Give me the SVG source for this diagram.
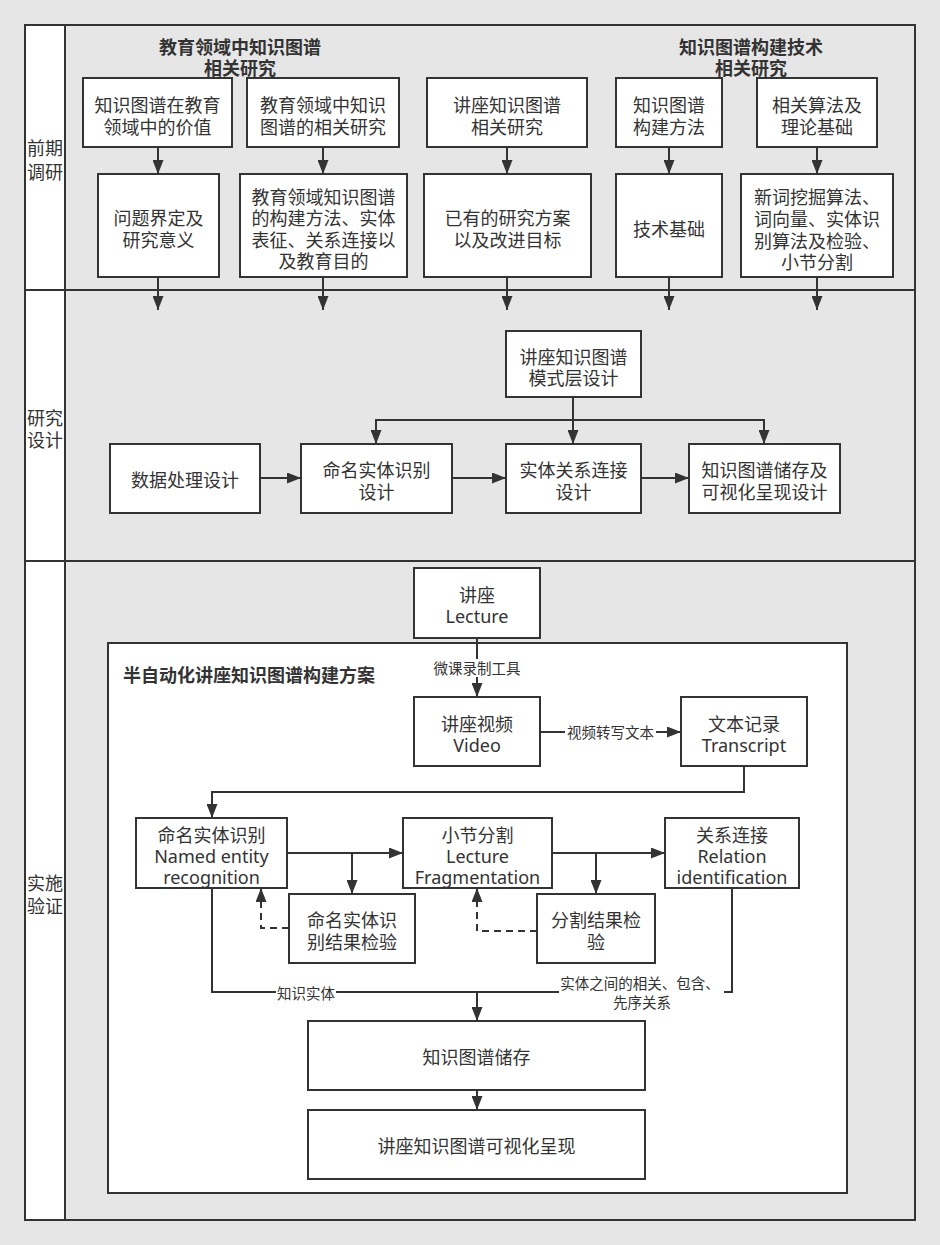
<svg xmlns="http://www.w3.org/2000/svg" width="940" height="1245" viewBox="0 0 940 1245">
<defs>
<style>
text{font-family:"Noto Sans","Noto Sans CJK SC",sans-serif;font-size:18px;fill:#333;text-anchor:middle;dominant-baseline:central}
.b{font-weight:bold}
.l{text-anchor:start}
.s{font-size:14.5px}
.box{fill:#fff;stroke:#333;stroke-width:2}
.ln{fill:none;stroke:#333;stroke-width:2}
.dash{fill:none;stroke:#333;stroke-width:2;stroke-dasharray:7 5}
</style>
<marker id="arr" viewBox="0 0 14 11" markerWidth="14" markerHeight="11" refX="14" refY="5.5" orient="auto" markerUnits="userSpaceOnUse">
<path d="M0,0 L14,5.5 L0,11 Z" fill="#333"/>
</marker>
</defs>
<rect x="0" y="0" width="940" height="1245" fill="#e6e6e6"/>
<g id="frame">
<rect x="25" y="25" width="890" height="1195" fill="#e6e6e6" stroke="#333" stroke-width="2"/>
<rect x="25" y="25" width="40" height="1195" fill="#fff" stroke="#333" stroke-width="2"/>
<line x1="25" y1="290" x2="915" y2="290" class="ln"/>
<line x1="25" y1="561" x2="915" y2="561" class="ln"/>
<text x="45" y="148">前期</text><text x="45" y="172">调研</text>
<text x="45" y="418">研究</text><text x="45" y="440">设计</text>
<text x="45" y="883">实施</text><text x="45" y="906">验证</text>
</g>
<g id="titles">
<text class="b" x="240" y="47">教育领域中知识图谱</text>
<text class="b" x="240" y="68">相关研究</text>
<text class="b" x="751" y="47">知识图谱构建技术</text>
<text class="b" x="751" y="68">相关研究</text>
</g>
<g id="connectors">
<line x1="158" y1="147" x2="158" y2="174" class="ln" marker-end="url(#arr)"/>
<line x1="323" y1="147" x2="323" y2="174" class="ln" marker-end="url(#arr)"/>
<line x1="507" y1="147" x2="507" y2="174" class="ln" marker-end="url(#arr)"/>
<line x1="669" y1="147" x2="669" y2="174" class="ln" marker-end="url(#arr)"/>
<line x1="817" y1="147" x2="817" y2="174" class="ln" marker-end="url(#arr)"/>
<line x1="158" y1="277" x2="158" y2="310" class="ln" marker-end="url(#arr)"/>
<line x1="323" y1="277" x2="323" y2="310" class="ln" marker-end="url(#arr)"/>
<line x1="507" y1="277" x2="507" y2="310" class="ln" marker-end="url(#arr)"/>
<line x1="669" y1="277" x2="669" y2="310" class="ln" marker-end="url(#arr)"/>
<line x1="817" y1="277" x2="817" y2="310" class="ln" marker-end="url(#arr)"/>
<line x1="573" y1="397" x2="573" y2="444" class="ln" marker-end="url(#arr)"/>
<polyline points="573,420 376,420 376,444" class="ln" marker-end="url(#arr)"/>
<polyline points="573,420 764,420 764,444" class="ln" marker-end="url(#arr)"/>
<line x1="260" y1="478" x2="301" y2="478" class="ln" marker-end="url(#arr)"/>
<line x1="452" y1="478" x2="506" y2="478" class="ln" marker-end="url(#arr)"/>
<line x1="641" y1="478" x2="689" y2="478" class="ln" marker-end="url(#arr)"/>
</g>
<g id="row1">
<g id="a1"><rect class="box" x="83" y="78" width="149" height="69"/><text x="157.5" y="105">知识图谱在教育</text><text x="157.5" y="127">领域中的价值</text></g>
<g id="a2"><rect class="box" x="247" y="78" width="152" height="69"/><text x="323" y="105">教育领域中知识</text><text x="323" y="127">图谱的相关研究</text></g>
<g id="a3"><rect class="box" x="427" y="78" width="160" height="69"/><text x="507" y="105">讲座知识图谱</text><text x="507" y="127">相关研究</text></g>
<g id="a4"><rect class="box" x="616" y="78" width="106" height="69"/><text x="669" y="105">知识图谱</text><text x="669" y="127">构建方法</text></g>
<g id="a5"><rect class="box" x="757" y="78" width="120" height="69"/><text x="817" y="105">相关算法及</text><text x="817" y="127">理论基础</text></g>
<g id="b1"><rect class="box" x="98" y="174" width="121" height="103"/><text x="158.5" y="218">问题界定及</text><text x="158.5" y="240">研究意义</text></g>
<g id="b2"><rect class="box" x="240" y="174" width="167" height="103"/><text x="323.5" y="197">教育领域知识图谱</text><text x="323.5" y="218">的构建方法、实体</text><text x="323.5" y="240">表征、关系连接以</text><text x="323.5" y="261">及教育目的</text></g>
<g id="b3"><rect class="box" x="424" y="174" width="167" height="103"/><text x="507.5" y="218">已有的研究方案</text><text x="507.5" y="240">以及改进目标</text></g>
<g id="b4"><rect class="box" x="616" y="174" width="106" height="103"/><text x="669" y="229">技术基础</text></g>
<g id="b5"><rect class="box" x="741" y="174" width="152" height="103"/><text x="817" y="197">新词挖掘算法、</text><text x="817" y="219">词向量、实体识</text><text x="817" y="241">别算法及检验、</text><text x="817" y="262">小节分割</text></g>
</g>
<g id="row2">
<g id="c1"><rect class="box" x="110" y="444" width="150" height="69"/><text x="185" y="480">数据处理设计</text></g>
<g id="c2"><rect class="box" x="301" y="444" width="151" height="69"/><text x="376.5" y="470">命名实体识别</text><text x="376.5" y="492">设计</text></g>
<g id="c0"><rect class="box" x="506" y="331" width="135" height="66"/><text x="573.5" y="357">讲座知识图谱</text><text x="573.5" y="378">模式层设计</text></g>
<g id="c3"><rect class="box" x="506" y="444" width="135" height="69"/><text x="573.5" y="470">实体关系连接</text><text x="573.5" y="492">设计</text></g>
<g id="c4"><rect class="box" x="689" y="444" width="151" height="69"/><text x="764.5" y="470">知识图谱储存及</text><text x="764.5" y="492">可视化呈现设计</text></g>
</g>
<g id="scheme">
<rect x="108" y="643" width="739" height="550" fill="#fff" stroke="#333" stroke-width="2"/>
<text class="b l" x="123" y="675">半自动化讲座知识图谱构建方案</text>
</g>
<g id="connectors3">
<line x1="477" y1="638" x2="477" y2="697" class="ln" marker-end="url(#arr)"/>
<rect x="432" y="659" width="90" height="18" fill="#fff"/>
<text class="s" x="477" y="668">微课录制工具</text>
<line x1="540" y1="732" x2="681" y2="732" class="ln" marker-end="url(#arr)"/>
<rect x="565" y="723" width="91" height="18" fill="#fff"/>
<text class="s" x="610.5" y="732">视频转写文本</text>
<polyline points="744,766 744,792 212,792 212,818" class="ln" marker-end="url(#arr)"/>
<line x1="287" y1="853" x2="403" y2="853" class="ln" marker-end="url(#arr)"/>
<line x1="352" y1="853" x2="352" y2="894" class="ln" marker-end="url(#arr)"/>
<line x1="552" y1="853" x2="665" y2="853" class="ln" marker-end="url(#arr)"/>
<line x1="596" y1="853" x2="596" y2="894" class="ln" marker-end="url(#arr)"/>
<polyline points="289,928 261,928 261,888" class="dash" marker-end="url(#arr)"/>
<polyline points="537,931 477,931 477,888" class="dash" marker-end="url(#arr)"/>
<polyline points="212,888 212,992 477,992" class="ln"/>
<polyline points="732,888 732,992 477,992" class="ln"/>
<line x1="477" y1="992" x2="477" y2="1021" class="ln" marker-end="url(#arr)"/>
<line x1="477" y1="1090" x2="477" y2="1110" class="ln" marker-end="url(#arr)"/>
<rect x="276" y="983" width="60" height="18" fill="#fff"/>
<text class="s" x="306" y="993">知识实体</text>
<rect x="559" y="974" width="165" height="38" fill="#fff"/>
<text class="s" x="640" y="983">实体之间的相关、包含、</text>
<text class="s" x="642" y="1002">先序关系</text>
</g>
<g id="row3">
<g id="lecture"><rect class="box" x="414" y="568" width="126" height="70"/><text x="477" y="595">讲座</text><text x="477" y="616">Lecture</text></g>
<g id="video"><rect class="box" x="414" y="697" width="126" height="69"/><text x="477" y="724">讲座视频</text><text x="477" y="745">Video</text></g>
<g id="transcript"><rect class="box" x="681" y="697" width="126" height="69"/><text x="744" y="724">文本记录</text><text x="744" y="745">Transcript</text></g>
<g id="ner"><rect class="box" x="136" y="818" width="151" height="70"/><text x="211.5" y="835">命名实体识别</text><text x="211.5" y="856">Named entity</text><text x="211.5" y="877">recognition</text></g>
<g id="frag"><rect class="box" x="403" y="818" width="149" height="70"/><text x="477.5" y="835">小节分割</text><text x="477.5" y="856">Lecture</text><text x="477.5" y="877">Fragmentation</text></g>
<g id="rel"><rect class="box" x="665" y="818" width="134" height="70"/><text x="732" y="835">关系连接</text><text x="732" y="856">Relation</text><text x="732" y="877">identification</text></g>
<g id="nercheck"><rect class="box" x="289" y="894" width="126" height="69"/><text x="352" y="920">命名实体识</text><text x="352" y="942">别结果检验</text></g>
<g id="fragcheck"><rect class="box" x="537" y="894" width="118" height="69"/><text x="596" y="920">分割结果检</text><text x="596" y="942">验</text></g>
<g id="storage"><rect class="box" x="308" y="1021" width="337" height="69"/><text x="476.5" y="1057">知识图谱储存</text></g>
<g id="viz"><rect class="box" x="308" y="1110" width="337" height="69"/><text x="476.5" y="1146">讲座知识图谱可视化呈现</text></g>
</g>
</svg>
